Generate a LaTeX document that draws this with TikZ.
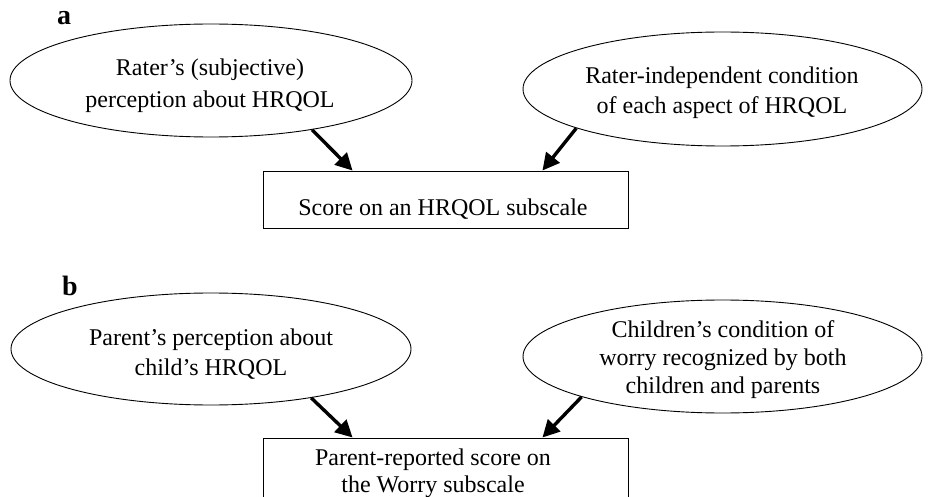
\documentclass[tikz,border=0pt]{standalone}
\usepackage{fontspec}
\setmainfont{Liberation Serif}
\usetikzlibrary{shapes.geometric,arrows.meta,calc}
\tikzset{
  oval/.style={draw, line width=0.9pt, shape=ellipse, inner sep=0pt},
  scorebox/.style={draw, line width=0.9pt, rectangle, inner sep=0pt, minimum width=365pt},
  txt/.style={inner sep=0pt, align=center, font=\fontsize{24}{30}\selectfont},
  cause/.style={line width=3.4pt, -{Triangle[length=17pt,width=17pt]}},
  panel/.style={font=\fontsize{28}{30}\selectfont\bfseries, anchor=base}
}
\begin{document}
\begin{tikzpicture}[x=1pt,y=-1pt]
\useasboundingbox (0,0) rectangle (929,497);
% panel a
\node[panel] (la) at (64,25) {a};
\node[oval, minimum width=402pt, minimum height=113pt] (ea1) at (211,80.5) {};
\node[txt, font=\fontsize{24}{32}\selectfont] (ta1) at (210,85.5)
  {Rater’s (subjective)\\perception about HRQOL};
\node[oval, minimum width=399pt, minimum height=114pt] (ea2) at (722.5,89) {};
\node[txt] (ta2) at (722,92.5)
  {Rater-independent condition\\of each aspect of HRQOL};
\node[scorebox, minimum height=57pt] (ra) at (445.5,199.5) {};
\node[txt] (tra) at (443,209.5) {Score on an HRQOL subscale};
\draw[cause] (ea1.-26) -- ($(ra.north west)+(90,0)$);
\draw[cause] (ea2.195.6) -- ($(ra.north east)+(-86,0)$);
% panel b
\node[panel] (lb) at (70,295) {b};
\node[oval, minimum width=400pt, minimum height=112pt] (eb1) at (211,349) {};
\node[txt] (tb1) at (211,354.5)
  {Parent’s perception about\\child’s HRQOL};
\node[oval, minimum width=399pt, minimum height=113pt] (eb2) at (722.5,356.5) {};
\node[txt, font=\fontsize{24}{28}\selectfont] (tb2) at (723,359.5)
  {Children’s condition of\\worry recognized by both\\children and parents};
\node[scorebox, minimum height=72pt, anchor=north] (rb) at (445.5,437.5) {};
\node[txt, font=\fontsize{24}{27}\selectfont] (trb) at (433,473)
  {Parent-reported score on\\the Worry subscale};
\draw[cause] (eb1.-26) -- ($(rb.north west)+(90,0)$);
\draw[cause] (eb2.196) -- ($(rb.north east)+(-86,0)$);
\end{tikzpicture}
\end{document}
